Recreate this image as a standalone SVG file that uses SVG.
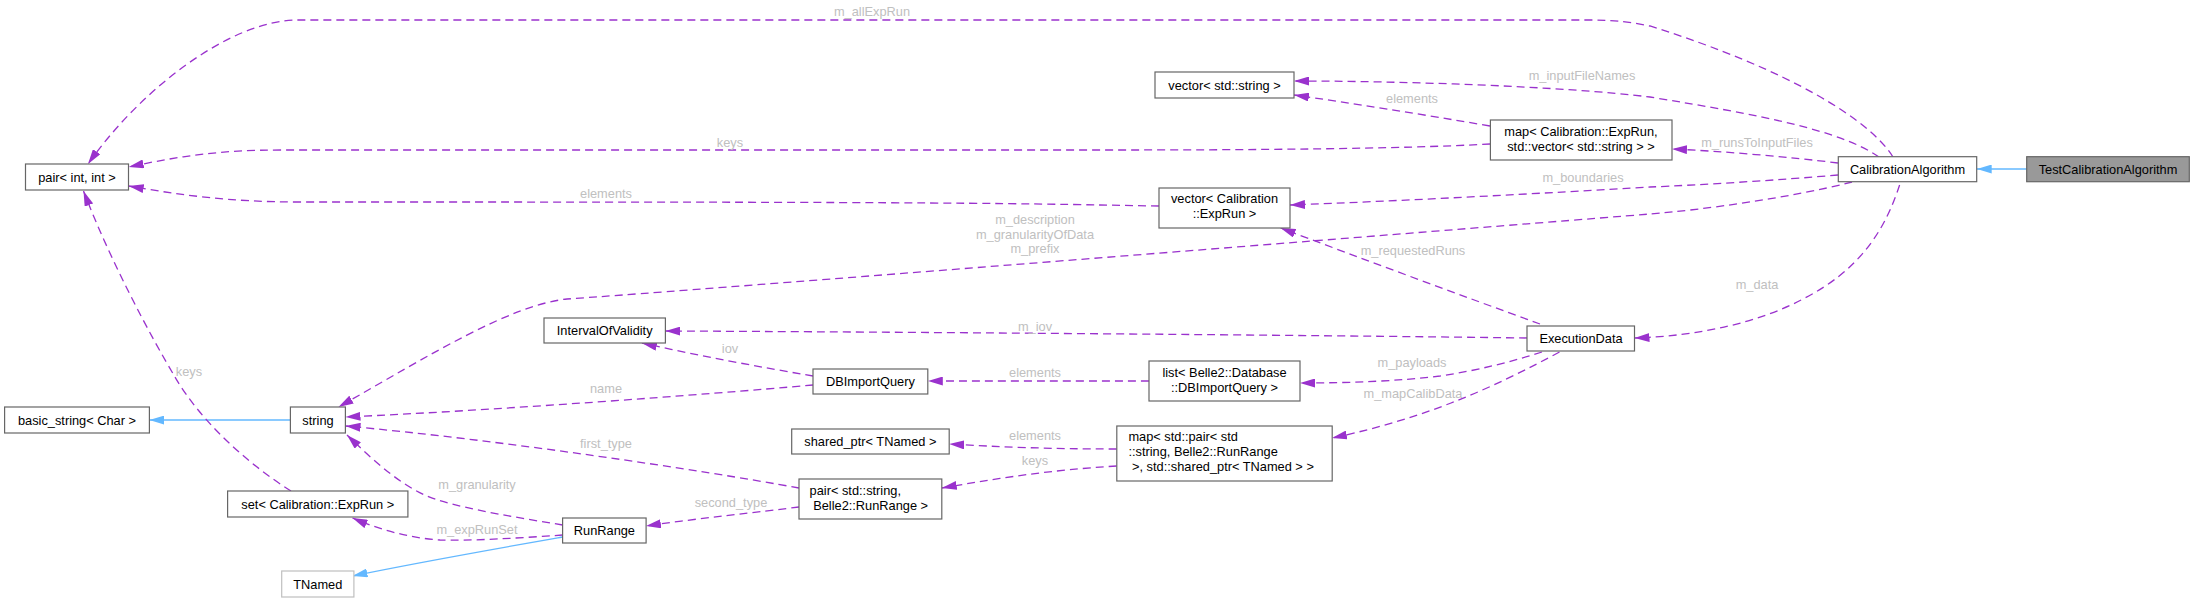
<svg xmlns="http://www.w3.org/2000/svg" width="2195" height="602" viewBox="0 0 2195 602">
<style>
.n rect{fill:#ffffff;stroke:#666666;stroke-width:1.2}
.n text{font-family:"Liberation Sans",Arial,Helvetica,sans-serif;font-size:12.8px;fill:#000000;text-anchor:middle}
.n text.l{text-anchor:start}
.n.u rect{stroke:#bfbfbf}
.n.cur rect{fill:#999999;stroke:#666666}
.e path{fill:none;stroke:#9a32cd;stroke-width:1.3;stroke-dasharray:8,5;marker-end:url(#ap)}
.e path.inh{stroke:#63b8ff;stroke-dasharray:none;marker-end:url(#ab)}
.lb text{font-family:"Liberation Sans",Arial,Helvetica,sans-serif;font-size:12.8px;fill:#c0c0c0;text-anchor:middle}
</style>
<defs>
<marker id="ap" markerUnits="userSpaceOnUse" markerWidth="15" markerHeight="9" viewBox="0 0 15 9" refX="15" refY="4.5" orient="auto"><path d="M0,0 L15,4.5 L0,9 z" fill="#9a32cd"/></marker>
<marker id="ab" markerUnits="userSpaceOnUse" markerWidth="15" markerHeight="9" viewBox="0 0 15 9" refX="15" refY="4.5" orient="auto"><path d="M0,0 L15,4.5 L0,9 z" fill="#63b8ff"/></marker>
</defs>
<rect x="0" y="0" width="2195" height="602" fill="#ffffff"/>
<g id="edges" class="e">
<path class="inh" d="M2026.7,169 L1976.7,169"/>
<path class="inh" d="M290.4,420 L149.4,420"/>
<path class="inh" d="M562.6,537 C500,548 420,562 352.5,576"/>
<path d="M1893,157 C1870,120 1790,70 1650,26 C1625,21 1610,20 1590,20 L298,20 C230,20 140,90 88,164"/>
<path d="M1879,157 C1840,130 1760,115 1650,97 C1560,86 1400,81 1294,81"/>
<path d="M1490,126 C1420,114 1350,103 1294,95"/>
<path d="M1490,144 C1400,149 1250,150 1100,150 L281,150 C220,150 180,156 128.7,167"/>
<path d="M1838,163 C1790,157 1720,151 1672,149"/>
<path d="M1838,175 C1780,180 1700,185 1650,187 C1550,193 1400,201 1290,205"/>
<path d="M1159,206 L1100,205 C950,202 700,202 298,202 C230,202 180,195 128.7,186"/>
<path d="M1852,182 C1790,198 1700,210 1650,214 C1400,234 700,290 567,299 C510,305 430,355 338.5,407"/>
<path d="M1899.6,185 C1885,230 1860,270 1803,299 C1760,322 1700,336 1634.5,338"/>
<path d="M1540,324 C1460,295 1360,258 1280.6,228"/>
<path d="M1527,338 C1300,335 900,332 665.4,331"/>
<path d="M813,376 C760,367 700,356 641.9,343"/>
<path d="M813,385 C700,395 500,410 345.5,417"/>
<path d="M1149,381 C1070,381 1000,381 927.8,381"/>
<path d="M1542,352 C1510,362 1480,370 1440,376 C1400,381 1350,383 1300,383"/>
<path d="M1559.5,352 C1530,368 1490,388 1451,403 C1420,415 1380,428 1332,438"/>
<path d="M1116.8,449 C1050,449 1000,447 949.2,444"/>
<path d="M1116.8,466 C1050,470 1000,478 941.8,488"/>
<path d="M799,488 C700,470 500,440 345.5,426"/>
<path d="M799,507 C760,512 700,518 646,526"/>
<path d="M562.6,525 C520,518 470,510 438,500 C405,490 375,462 347,435"/>
<path d="M562.6,535 C520,538 470,541 440,540 C410,538 380,530 352.5,518"/>
<path d="M291,491 C245,462 200,420 175,377 C150,335 110,260 83.5,191"/>
</g>
<g id="labels" class="lb">
<text x="872" y="16">m_allExpRun</text>
<text x="1582" y="80">m_inputFileNames</text>
<text x="1412" y="103">elements</text>
<text x="730" y="147">keys</text>
<text x="1757" y="147">m_runsToInputFiles</text>
<text x="1583" y="182">m_boundaries</text>
<text x="606" y="198">elements</text>
<text x="1035" y="224">m_description</text>
<text x="1035" y="238.5">m_granularityOfData</text>
<text x="1035" y="253">m_prefix</text>
<text x="1413" y="255">m_requestedRuns</text>
<text x="1757" y="289">m_data</text>
<text x="1035" y="331">m_iov</text>
<text x="730" y="353">iov</text>
<text x="1412" y="367">m_payloads</text>
<text x="1035" y="377">elements</text>
<text x="189" y="376">keys</text>
<text x="606" y="393">name</text>
<text x="1413" y="398">m_mapCalibData</text>
<text x="1035" y="440">elements</text>
<text x="606" y="448">first_type</text>
<text x="1035" y="465">keys</text>
<text x="477" y="489">m_granularity</text>
<text x="731" y="507">second_type</text>
<text x="477" y="534">m_expRunSet</text>
</g>
<g id="node_pair_int" class="n"><rect x="25.5" y="164" width="103" height="26"/><text x="77" y="181.5">pair&lt; int, int &gt;</text></g>
<g id="node_basic_string" class="n"><rect x="4.6" y="407" width="144.8" height="26"/><text x="77" y="424.5">basic_string&lt; Char &gt;</text></g>
<g id="node_string" class="n"><rect x="290.4" y="407" width="55" height="26"/><text x="318" y="424.5">string</text></g>
<g id="node_set_exprun" class="n"><rect x="227.6" y="491" width="180.3" height="26"/><text x="317.8" y="508.5">set&lt; Calibration::ExpRun &gt;</text></g>
<g id="node_tnamed" class="n u"><rect x="281.7" y="571" width="72.2" height="26"/><text x="317.8" y="588.5">TNamed</text></g>
<g id="node_iov" class="n"><rect x="544" y="318" width="121.4" height="25"/><text x="604.7" y="335">IntervalOfValidity</text></g>
<g id="node_dbimportquery" class="n"><rect x="813" y="369" width="114.8" height="25"/><text x="870.4" y="386">DBImportQuery</text></g>
<g id="node_shared_ptr" class="n"><rect x="791.7" y="429" width="157.5" height="25"/><text x="870.4" y="446">shared_ptr&lt; TNamed &gt;</text></g>
<g id="node_pair_string_runrange" class="n"><rect x="799" y="479" width="142.8" height="40"/><text class="l" x="809.6" y="495">pair&lt; std::string,</text><text class="l" x="813.2" y="509.5">Belle2::RunRange &gt;</text></g>
<g id="node_runrange" class="n"><rect x="562.6" y="518" width="83.5" height="25"/><text x="604.4" y="535">RunRange</text></g>
<g id="node_vector_string" class="n"><rect x="1155" y="72" width="139" height="26"/><text x="1224.5" y="89.5">vector&lt; std::string &gt;</text></g>
<g id="node_map_exprun" class="n"><rect x="1490.4" y="120" width="181.6" height="40"/><text x="1581" y="136">map&lt; Calibration::ExpRun,</text><text x="1581" y="151">std::vector&lt; std::string &gt; &gt;</text></g>
<g id="node_vector_exprun" class="n"><rect x="1159" y="188" width="131" height="40"/><text x="1224.5" y="203">vector&lt; Calibration</text><text x="1224.5" y="218">::ExpRun &gt;</text></g>
<g id="node_executiondata" class="n"><rect x="1527" y="326" width="107.5" height="25"/><text x="1581" y="343">ExecutionData</text></g>
<g id="node_list_dbimport" class="n"><rect x="1149" y="361" width="151" height="40"/><text x="1224.5" y="377">list&lt; Belle2::Database</text><text x="1224.5" y="392">::DBImportQuery &gt;</text></g>
<g id="node_map_pair" class="n"><rect x="1116.8" y="426" width="215.4" height="55"/><text class="l" x="1128.4" y="441">map&lt; std::pair&lt; std</text><text class="l" x="1128.4" y="456">::string, Belle2::RunRange</text><text class="l" x="1132" y="471">&gt;, std::shared_ptr&lt; TNamed &gt; &gt;</text></g>
<g id="node_calibrationalgorithm" class="n"><rect x="1838.3" y="156.7" width="138.4" height="25"/><text x="1907.5" y="174">CalibrationAlgorithm</text></g>
<g id="node_testcalibrationalgorithm" class="n cur"><rect x="2026.7" y="156.7" width="162.6" height="25"/><text x="2108" y="174">TestCalibrationAlgorithm</text></g>
</svg>
